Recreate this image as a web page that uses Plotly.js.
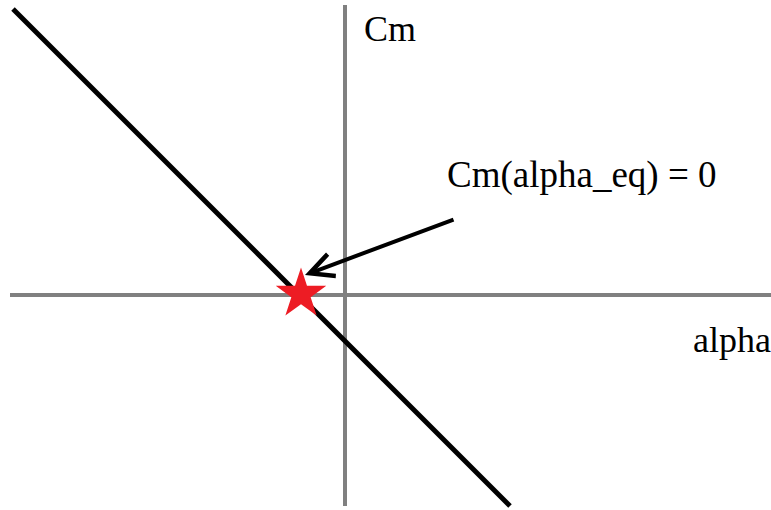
<!DOCTYPE html>
<html>
<head>
<meta charset="utf-8">
<script src="https://cdn.plot.ly/plotly-3.0.1.min.js"></script>
<style>html,body{margin:0;padding:0;background:#fff;}#chart{width:771px;height:510px;}</style>
</head>
<body>
<div id="chart"></div>
<script>
// Moment coefficient line (Cm vs alpha)
const alphaLine = [-332, 165];
const cmLine = [286, -211];
// Coordinate axes
const hAxisAlpha = [-335, 426];
const hAxisCm = [0, 0];
const vAxisAlpha = [0, 0];
const vAxisCm = [290, -211];
// Equilibrium point
const alphaEq = [-44];
const cmEq = [1];
// Labels
const labelCm = "Cm";
const labelAlpha = "alpha";
const labelEq = "Cm(alpha_eq) = 0";

const font = {family: "Liberation Serif", size: 36, color: "#000"};

const traces = [
  {x: hAxisAlpha, y: hAxisCm, mode: "lines", line: {color: "#808080", width: 4}, hoverinfo: "skip"},
  {x: vAxisAlpha, y: vAxisCm, mode: "lines", line: {color: "#808080", width: 4}, hoverinfo: "skip"},
  {x: alphaLine, y: cmLine, mode: "lines", line: {color: "#000", width: 5}, hoverinfo: "skip"},
  {x: alphaEq, y: cmEq, mode: "markers", marker: {symbol: "star", size: 38, color: "#ED1C24", line: {width: 0}}, hoverinfo: "skip"}
];

const layout = {
  width: 771, height: 510,
  margin: {l: 0, r: 0, t: 0, b: 0},
  paper_bgcolor: "#fff", plot_bgcolor: "#fff",
  showlegend: false,
  xaxis: {range: [-345, 426], visible: false, fixedrange: true},
  yaxis: {range: [-215, 295], visible: false, fixedrange: true},
  annotations: [
    {x: 17, y: 266, xref: "x", yref: "y", text: labelCm, showarrow: false, xanchor: "left", yanchor: "middle", font: font},
    {x: 346, y: -45, xref: "x", yref: "y", text: labelAlpha, showarrow: false, xanchor: "left", yanchor: "middle", font: font},
    {x: 100, y: 120, xref: "x", yref: "y", text: labelEq, showarrow: false, xanchor: "left", yanchor: "middle",
     font: {family: "Liberation Serif", size: 37, color: "#000"}},
    {x: -40, y: 20, xref: "x", yref: "y", ax: 110, ay: 76, axref: "x", ayref: "y", text: "", showarrow: true,
     arrowhead: 5, arrowsize: 1.15, arrowwidth: 4, arrowcolor: "#000", standoff: 0}
  ]
};

Plotly.newPlot("chart", traces, layout, {staticPlot: true, displayModeBar: false});
</script>
</body>
</html>
